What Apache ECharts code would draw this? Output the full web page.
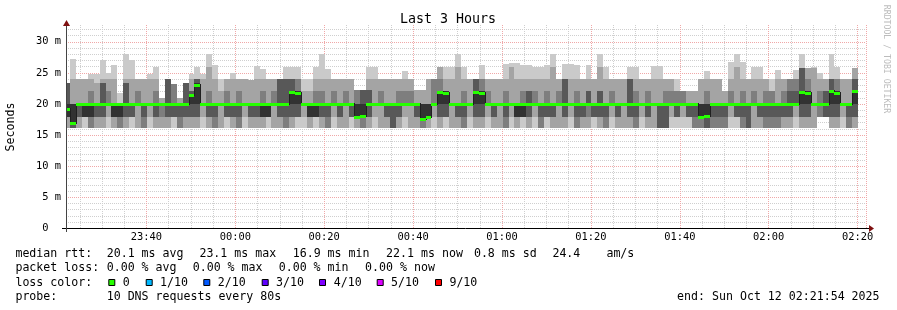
<!DOCTYPE html>
<html><head><meta charset="utf-8">
<script src="https://cdn.jsdelivr.net/npm/echarts@6/dist/echarts.min.js"></script>
<style>html,body{margin:0;padding:0;background:#fff}#c{width:897px;height:310px}</style>
</head><body><div id="c"></div>
<script>
// ---------- data ----------
const chartTitle = 'Last 3 Hours';
const yAxisName = 'Seconds';
const sideText = 'RRDTOOL / TOBI OETIKER';
const startTime = new Date(2025, 9, 11, 23, 21, 54).getTime();
const endTime = new Date(2025, 9, 12, 2, 21, 54).getTime();
const firstBoundarySec = 54;   // first 80s step boundary after start
const stepSec = 80;
const yMax = 32.7;

// median RTT per 80 s step (ms)
const median = [
 19.2,16.9,20.0,20.0,20.0,20.0,20.0,20.0,20.0,20.0,20.0,20.0,20.0,20.0,20.0,20.0,20.0,20.0,20.0,20.0,20.0,
 21.4,23.1,
 20.0,20.0,20.0,20.0,20.0,20.0,20.0,20.0,20.0,20.0,20.0,20.0,20.0,20.0,20.0,
 22.0,21.8,
 20.0,20.0,20.0,20.0,20.0,20.0,20.0,20.0,20.0,
 17.9,18.0,
 20.0,20.0,20.0,20.0,20.0,20.0,20.0,20.0,20.0,
 17.6,17.9,20.0,21.9,21.7,
 20.0,20.0,20.0,20.0,
 22.0,21.8,
 20.0,20.0,20.0,20.0,20.0,20.0,20.0,20.0,20.0,20.0,20.0,20.0,20.0,20.0,20.0,20.0,20.0,20.0,
 20.0,20.0,20.0,20.0,20.0,20.0,20.0,20.0,20.0,20.0,20.0,20.0,20.0,20.0,20.0,20.0,20.0,20.0,
 17.9,18.1,
 20.0,20.0,20.0,20.0,20.0,20.0,20.0,20.0,20.0,20.0,20.0,20.0,20.0,20.0,20.0,
 22.0,21.8,20.0,20.0,20.0,22.1,21.8,20.0,20.0,22.1
];

// 10 sorted ping RTTs per step (ms)
const smoke = [
 [16.1,16.1,17.9,17.9,17.9,20.0,23.3,23.3,23.3,23.3],
 [16.1,16.1,16.1,16.1,16.9,20.0,20.0,20.0,24.0,27.2],
 [16.1,16.1,17.9,17.9,20.0,20.0,20.0,20.0,24.0,24.0],
 [16.1,17.9,17.9,17.9,17.9,20.0,20.0,20.0,24.0,24.0],
 [16.1,16.1,16.1,17.9,17.9,20.0,20.0,22.1,24.0,24.9],
 [16.1,16.1,17.9,17.9,20.0,20.0,20.0,20.0,23.3,24.9],
 [16.1,16.1,17.9,17.9,20.0,20.0,23.3,23.3,24.0,27.0],
 [16.1,17.9,20.0,20.0,20.0,20.0,20.0,22.1,24.0,25.0],
 [16.1,16.1,17.9,17.9,17.9,20.0,20.0,20.0,24.0,26.2],
 [16.1,16.1,16.1,17.9,17.9,20.0,20.0,20.0,20.0,21.7],
 [16.1,16.1,17.9,17.9,20.0,20.0,23.3,23.3,24.0,28.0],
 [16.1,17.9,17.9,17.9,20.0,20.0,20.0,20.0,24.0,27.0],
 [16.1,16.1,20.0,20.0,20.0,20.0,20.0,22.1,24.0,24.0],
 [16.1,16.1,16.1,17.9,20.0,20.0,20.0,20.0,24.0,24.0],
 [16.1,17.9,20.0,20.0,20.0,20.0,20.0,20.0,24.0,24.8],
 [16.1,16.1,17.9,17.9,20.0,20.0,20.0,22.1,24.0,26.0],
 [16.1,16.1,17.9,20.0,20.0,20.0,20.0,20.0,20.9,20.9],
 [16.1,16.1,17.9,17.9,20.0,20.0,24.0,24.0,24.0,24.0],
 [16.1,17.9,17.9,17.9,20.0,20.0,20.0,23.2,23.2,23.2],
 [16.1,16.1,16.1,17.9,20.0,20.0,20.0,20.0,21.0,21.0],
 [16.1,16.1,17.9,17.9,20.0,20.0,23.3,23.3,23.3,23.3],
 [16.1,16.1,17.9,17.9,20.0,21.5,22.1,22.1,24.0,24.8],
 [16.1,16.1,17.9,17.9,20.0,23.3,24.0,24.0,24.0,26.0],
 [16.1,17.9,20.0,20.0,20.0,20.0,20.0,20.0,24.0,24.8],
 [16.1,16.1,17.9,17.9,20.0,20.0,20.0,22.1,26.0,28.0],
 [16.1,16.1,16.1,17.9,20.0,20.0,20.0,20.0,24.0,26.2],
 [16.1,16.1,20.0,20.0,20.0,20.0,20.0,20.0,22.1,24.0],
 [16.1,17.9,17.9,17.9,20.0,20.0,20.0,22.1,24.0,24.0],
 [16.1,16.1,17.9,17.9,20.0,20.0,20.0,20.0,24.0,25.0],
 [16.1,16.1,16.1,17.9,20.0,20.0,20.0,22.1,24.0,24.0],
 [16.1,17.9,20.0,20.0,20.0,20.0,20.0,20.0,24.0,24.0],
 [16.1,16.1,17.9,17.9,20.0,20.0,20.0,20.0,23.8,23.8],
 [16.1,16.1,17.9,17.9,20.0,20.0,20.0,20.0,24.0,26.1],
 [16.1,16.1,17.9,17.9,17.9,20.0,20.0,22.1,24.0,25.7],
 [16.1,17.9,17.9,17.9,17.9,20.0,20.0,20.0,24.0,24.0],
 [16.1,16.1,20.0,20.0,20.0,20.0,20.0,22.1,24.0,24.0],
 [16.1,16.1,17.9,17.9,20.0,20.0,24.0,24.0,24.0,24.0],
 [16.1,16.1,16.1,17.9,20.0,20.0,24.0,24.0,24.0,26.0],
 [16.1,16.1,17.9,17.9,20.0,22.1,24.0,24.0,24.0,26.0],
 [16.1,17.9,17.9,17.9,20.0,22.1,22.1,24.0,24.0,25.9],
 [16.1,17.9,20.0,20.0,20.0,20.0,20.0,20.0,22.1,24.0],
 [16.1,16.1,17.9,17.9,17.9,20.0,20.0,20.0,22.1,24.0],
 [16.1,17.9,17.9,17.9,17.9,20.0,20.0,22.1,24.0,26.0],
 [16.1,16.1,17.9,17.9,20.0,20.0,20.0,22.1,24.0,28.0],
 [16.1,16.1,16.1,17.9,20.0,20.0,20.0,20.0,24.0,25.7],
 [16.1,17.9,20.0,20.0,20.0,20.0,20.0,22.1,24.0,24.0],
 [16.1,16.1,17.9,17.9,20.0,20.0,20.0,20.0,24.0,24.0],
 [16.1,16.1,20.0,20.0,20.0,20.0,20.0,22.1,24.0,24.0],
 [16.1,17.9,17.9,17.9,20.0,20.0,20.0,20.0,24.0,24.0],
 [16.1,16.1,17.9,17.9,17.9,20.0,20.0,22.2,22.2,22.2],
 [16.1,16.1,16.1,17.9,18.0,20.0,22.2,22.2,22.2,22.3],
 [16.1,16.1,17.9,17.9,20.0,20.0,22.2,22.2,24.0,26.0],
 [16.1,17.9,20.0,20.0,20.0,20.0,20.0,20.0,24.0,26.0],
 [16.1,16.1,20.0,20.0,20.0,20.0,20.0,22.1,24.0,24.0],
 [16.1,16.1,17.9,17.9,20.0,20.0,20.0,20.0,24.0,24.0],
 [16.1,16.1,16.1,16.1,20.0,20.0,20.0,20.0,24.0,24.0],
 [16.1,16.1,17.9,17.9,20.0,20.0,20.0,22.1,24.0,24.0],
 [16.1,17.9,20.0,20.0,20.0,20.0,20.0,22.1,24.0,25.3],
 [16.1,16.1,20.0,20.0,20.0,20.0,20.0,22.1,24.0,24.0],
 [16.1,16.1,17.9,17.9,20.0,20.0,20.0,20.0,22.2,22.2],
 [16.1,16.1,16.1,17.6,17.6,20.0,20.0,20.0,22.2,22.2],
 [16.1,16.1,17.9,17.9,17.9,20.0,20.0,20.0,24.0,24.0],
 [16.1,17.9,20.0,20.0,20.0,20.0,20.0,24.0,24.0,24.0],
 [16.1,16.1,17.9,17.9,20.0,22.1,22.1,24.0,26.0,26.0],
 [16.1,17.9,17.9,17.9,20.0,22.1,22.1,22.1,24.0,26.0],
 [16.1,16.1,20.0,20.0,20.0,20.0,20.0,20.0,24.0,26.0],
 [16.1,16.1,17.9,17.9,20.0,20.0,20.0,20.0,26.0,28.0],
 [16.1,16.1,16.1,17.9,20.0,20.0,20.0,22.1,24.0,26.0],
 [16.1,17.9,20.0,20.0,20.0,20.0,20.0,20.0,24.0,24.0],
 [16.1,16.1,17.9,17.9,20.0,22.1,24.0,24.0,24.0,24.0],
 [16.1,16.1,17.9,17.9,20.0,22.1,22.1,24.0,24.0,26.3],
 [16.1,17.9,20.0,20.0,20.0,20.0,20.0,22.1,24.0,24.0],
 [16.1,16.1,17.9,17.9,20.0,20.0,20.0,20.0,24.0,24.0],
 [16.1,16.1,20.0,20.0,20.0,20.0,20.0,20.0,24.0,24.0],
 [16.1,16.1,16.1,17.9,20.0,20.0,20.0,22.1,24.0,26.4],
 [16.1,17.9,20.0,20.0,20.0,20.0,20.0,20.0,26.0,26.6],
 [16.1,16.1,17.9,17.9,17.9,20.0,20.0,20.0,24.0,26.6],
 [16.1,17.9,17.9,17.9,17.9,20.0,20.0,22.1,24.0,26.2],
 [16.1,16.1,17.9,17.9,20.0,20.0,22.1,22.1,24.0,26.2],
 [16.1,17.9,20.0,20.0,20.0,20.0,20.0,22.1,24.0,26.0],
 [16.1,16.1,16.1,17.9,20.0,20.0,20.0,20.0,24.0,26.0],
 [16.1,17.9,17.9,17.9,20.0,20.0,20.0,22.1,24.0,26.2],
 [16.1,16.1,17.9,17.9,20.0,20.0,20.0,20.0,26.0,28.0],
 [16.1,16.1,20.0,20.0,20.0,20.0,20.0,22.1,24.0,24.0],
 [16.1,16.1,17.9,17.9,20.0,20.0,24.0,24.0,24.0,26.5],
 [16.1,17.9,20.0,20.0,20.0,20.0,20.0,20.0,24.0,26.5],
 [16.1,16.1,16.1,17.9,20.0,20.0,20.0,22.1,24.0,26.2],
 [16.1,16.1,17.9,17.9,20.0,20.0,20.0,20.0,24.0,24.0],
 [16.1,16.1,17.9,20.0,20.0,20.0,22.1,22.1,24.0,26.2],
 [16.1,17.9,17.9,17.9,20.0,20.0,20.0,20.0,24.0,24.0],
 [16.1,16.1,17.9,17.9,20.0,20.0,22.1,22.1,26.0,28.1],
 [16.1,16.1,16.1,17.9,20.0,20.0,20.0,20.0,24.0,26.0],
 [16.1,17.9,20.0,20.0,20.0,20.0,20.0,22.1,24.0,24.0],
 [16.1,16.1,17.9,17.9,20.0,20.0,20.0,20.0,24.0,24.0],
 [16.1,16.1,20.0,20.0,20.0,20.0,20.0,20.0,24.0,24.0],
 [16.1,16.1,17.9,17.9,20.0,20.0,24.0,24.0,24.0,26.0],
 [16.1,16.1,16.1,17.9,20.0,20.0,20.0,22.1,24.0,26.0],
 [16.1,17.9,20.0,20.0,20.0,20.0,20.0,20.0,24.0,24.0],
 [16.1,16.1,17.9,17.9,20.0,20.0,20.0,22.1,24.0,24.0],
 [16.1,16.1,20.0,20.0,20.0,20.0,20.0,20.0,24.0,26.1],
 [16.1,16.1,16.1,16.1,20.0,20.0,20.0,20.0,24.0,26.1],
 [16.1,16.1,16.1,16.1,20.0,20.0,20.0,22.1,24.0,24.0],
 [16.1,17.9,20.0,20.0,20.0,20.0,20.0,22.1,24.0,24.0],
 [16.1,17.9,17.9,17.9,20.0,20.0,20.0,22.1,22.1,24.0],
 [16.1,17.9,20.0,20.0,20.0,20.0,20.0,22.1,22.1,22.1],
 [16.1,17.9,17.9,17.9,20.0,20.0,20.0,20.0,22.1,22.1],
 [16.1,16.1,16.1,17.9,20.0,20.0,20.0,20.0,22.1,22.1],
 [16.1,16.1,16.1,17.9,17.9,20.0,20.0,20.0,24.0,24.0],
 [16.1,16.1,16.1,16.1,18.1,20.0,20.0,22.1,24.0,25.3],
 [16.1,16.1,16.1,17.9,20.0,20.0,20.0,20.0,24.0,24.0],
 [16.1,16.1,16.1,17.9,20.0,20.0,20.0,20.0,24.0,24.0],
 [16.1,16.1,16.1,17.9,20.0,20.0,20.0,20.0,22.1,22.1],
 [16.1,17.9,20.0,20.0,20.0,20.0,20.0,22.1,24.0,26.7],
 [16.1,17.9,17.9,17.9,20.0,20.0,20.0,20.0,26.0,28.0],
 [16.1,16.1,16.1,17.9,20.0,20.0,20.0,22.1,24.0,26.7],
 [16.1,16.1,16.1,16.1,20.0,20.0,20.0,20.0,24.0,24.0],
 [16.1,16.1,20.0,20.0,20.0,20.0,20.0,22.1,24.0,26.0],
 [16.1,16.1,17.9,17.9,20.0,20.0,20.0,20.0,24.0,26.0],
 [16.1,16.1,16.1,17.9,20.0,20.0,20.0,22.1,24.0,24.0],
 [16.1,16.1,16.1,17.9,20.0,20.0,20.0,22.1,22.1,24.0],
 [16.1,16.1,16.1,17.9,20.0,20.0,20.0,20.0,24.0,25.5],
 [16.1,16.1,17.9,17.9,20.0,20.0,20.0,22.1,24.0,24.0],
 [16.1,16.1,17.9,17.9,20.0,20.0,22.1,24.0,24.0,24.0],
 [16.1,17.9,20.0,20.0,20.0,20.0,22.1,24.0,24.0,25.5],
 [16.1,16.1,17.9,17.9,20.0,22.1,25.8,25.8,25.8,28.1],
 [16.1,16.1,17.9,17.9,20.0,22.1,22.1,24.0,25.8,25.8],
 [16.1,16.1,20.0,20.0,20.0,20.0,20.0,20.0,25.8,26.0],
 [17.9,17.9,17.9,20.0,20.0,20.0,20.0,22.1,24.0,25.0],
 [17.9,17.9,17.9,17.9,20.0,20.0,22.1,22.1,24.0,24.0],
 [16.1,16.1,17.9,17.9,20.0,22.1,24.0,24.0,24.0,28.1],
 [16.1,16.1,17.9,17.9,20.0,22.1,22.1,24.0,24.0,26.0],
 [16.1,17.9,20.0,20.0,20.0,20.0,20.0,20.0,24.0,24.0],
 [16.1,16.1,16.1,17.9,20.0,20.0,20.0,20.0,24.0,24.0],
 [16.1,16.1,17.9,17.9,20.0,22.1,24.0,24.0,25.8,25.8]
];

const statsRtt = ['median rtt:', '20.1 ms avg', '23.1 ms max', '16.9 ms min', '22.1 ms now', '0.8 ms sd', '24.4', 'am/s'];
const statsLoss = ['packet loss:', '0.00 % avg', '0.00 % max', '0.00 % min', '0.00 % now'];
const lossLabelTitle = 'loss color:';
const lossLabels = ['0', '1/10', '2/10', '3/10', '4/10', '5/10', '9/10'];
const lossColors = ['#26ff00', '#00b8ff', '#0059ff', '#5e00ff', '#7e00ff', '#dd00ff', '#ff0000'];
const probeText = ['probe:', '10 DNS requests every 80s'];
const endText = 'end: Sun Oct 12 02:21:54 2025';

// ---------- chart ----------
const MONO = 'DejaVu Sans Mono';
const bandColors = ['#cacaca', '#a4a4a4', '#7e7e7e', '#585858', '#323232'];

const seriesData = smoke.map((row, k) => {
  const t0 = k === 0 ? startTime : startTime + (firstBoundarySec + (k - 1) * stepSec) * 1000;
  const t1 = k === 0 ? startTime + firstBoundarySec * 1000 : t0 + stepSec * 1000;
  return [t0, t1].concat(row, [median[k], k > 0 ? median[k - 1] : median[k]]);
});

function renderItem(params, api) {
  const t0 = api.value(0), t1 = api.value(1);
  const xL = Math.round(api.coord([t0, 0])[0]);
  const xR = Math.round(api.coord([t1, 0])[0]);
  const children = [];
  for (let j = 0; j < 5; j++) {
    const lo = api.value(2 + j), hi = api.value(11 - j);
    const yT = Math.round(api.coord([t0, hi])[1]);
    const yB = Math.round(api.coord([t0, lo])[1]);
    if (yB > yT) children.push({type: 'rect', shape: {x: xL, y: yT, width: xR - xL, height: yB - yT}, style: {fill: bandColors[j]}});
  }
  const med = api.value(12), prev = api.value(13);
  const yM = Math.round(api.coord([t0, med])[1]);
  if (params.dataIndex > 0 && prev !== med) {
    const yP = Math.round(api.coord([t0, prev])[1]);
    children.push({type: 'rect', shape: {x: xL, y: Math.min(yP, yM) - 1, width: 1, height: Math.abs(yP - yM) + 2}, style: {fill: '#202020'}});
  }
  children.push({type: 'rect', shape: {x: xL, y: yM - 1, width: xR - xL, height: 3}, style: {fill: lossColors[0]}});
  return {type: 'group', children};
}

const textStyleBase = {fontFamily: MONO, fontSize: 11.6, fill: '#000', verticalAlign: 'middle', align: 'left'};
function txt(x, y, s, extra) {
  return {type: 'text', x: x, y: y, z: 100, style: Object.assign({}, textStyleBase, {text: s}, extra || {})};
}

const graphics = [];
graphics.push(txt(448, 20, chartTitle, {align: 'center', fontSize: 13.3}));
graphics.push({type: 'text', x: 11, y: 127, rotation: Math.PI / 2, z: 100,
  style: {text: yAxisName, fontFamily: MONO, fontSize: 11.6, fill: '#000', align: 'center', verticalAlign: 'middle'}});
graphics.push({type: 'text', x: 886.5, y: 59, rotation: -Math.PI / 2, z: 100,
  style: {text: sideText, fontFamily: MONO, fontSize: 8.2, fill: '#bcbcbc', align: 'center', verticalAlign: 'middle'}});
// axes lines + arrows
graphics.push({type: 'line', z: 90, shape: {x1: 62, y1: 228.5, x2: 869, y2: 228.5}, style: {stroke: '#000', lineWidth: 1}});
graphics.push({type: 'line', z: 90, shape: {x1: 66.5, y1: 232, x2: 66.5, y2: 25}, style: {stroke: '#444', lineWidth: 1}});
graphics.push({type: 'polygon', z: 91, shape: {points: [[869, 225], [874, 228.5], [869, 232]]}, style: {fill: '#7f1010'}});
graphics.push({type: 'polygon', z: 91, shape: {points: [[63, 26], [66.5, 20], [70, 26]]}, style: {fill: '#7f1010'}});

const rttX = [16, 107.3, 200, 293.3, 386.7, 474.5, 553, 607];
statsRtt.forEach((s, i) => graphics.push(txt(rttX[i] - 0.6, 254.3, s)));
const lossX = [16, 107.3, 193.3, 279.3, 365.7];
statsLoss.forEach((s, i) => graphics.push(txt(lossX[i] - 0.6, 268.3, s)));
graphics.push(txt(15.4, 282.7, lossLabelTitle));
const sqX = [108.3, 145.7, 203.3, 261.7, 319, 376.7, 435];
const lblX = [123.3, 160.7, 218.3, 276.7, 334.3, 391.7, 450];
lossLabels.forEach((s, i) => {
  graphics.push({type: 'rect', z: 100, shape: {x: sqX[i] + 0.5, y: 279.5, width: 6, height: 6}, style: {fill: lossColors[i], stroke: '#000', lineWidth: 1}});
  graphics.push(txt(lblX[i] - 0.6, 282.7, s));
});
graphics.push(txt(15.4, 296.7, probeText[0]));
graphics.push(txt(106.7, 296.7, probeText[1]));
graphics.push(txt(677.1, 296.7, endText));

const chart = echarts.init(document.getElementById('c'), null, {renderer: 'canvas'});
chart.setOption({
  animation: false,
  backgroundColor: '#fff',
  grid: {left: 66, top: 25, width: 800, height: 203.4},
  xAxis: [
    {type: 'time', min: startTime, max: endTime, minInterval: 21 * 60000, maxInterval: 21 * 60000,
     axisLine: {show: false}, axisTick: {show: false},
     axisLabel: {formatter: '{HH}:{mm}', fontFamily: MONO, fontSize: 10.4, color: '#000', margin: 4, hideOverlap: false},
     splitLine: {show: true, lineStyle: {color: '#f0a8a8', type: [1, 1], width: 1}}, z: 1},
    {type: 'time', min: startTime, max: endTime, minInterval: 6 * 60000, maxInterval: 6 * 60000, position: 'bottom',
     axisLine: {show: false}, axisTick: {show: false}, axisLabel: {show: false},
     splitLine: {show: true, lineStyle: {color: '#cfcfcf', type: [1, 1], width: 1}}, z: 0}
  ],
  yAxis: [
    {type: 'value', min: 0, max: yMax, interval: 5,
     axisLine: {show: false}, axisTick: {show: false},
     axisLabel: {formatter: v => (v === 0 ? '0  ' : (v % 5 === 0 ? v + ' m' : '')), fontFamily: MONO, fontSize: 10.4, color: '#000', margin: 5},
     splitLine: {show: true, showMaxLine: false, lineStyle: {color: '#f0a8a8', type: [1, 1], width: 1}}, z: 1},
    {type: 'value', min: 0, max: yMax, interval: 1, position: 'left',
     axisLine: {show: false}, axisTick: {show: false}, axisLabel: {show: false},
     splitLine: {show: true, showMaxLine: false, lineStyle: {color: '#cfcfcf', type: [1, 1], width: 1}}, z: 0}
  ],
  series: [{
    type: 'custom', xAxisIndex: 0, yAxisIndex: 0, renderItem: renderItem,
    encode: {x: [0, 1], y: [2, 11]}, data: seriesData, z: 2, silent: true
  }],
  graphic: graphics
});
</script>
</body></html>
